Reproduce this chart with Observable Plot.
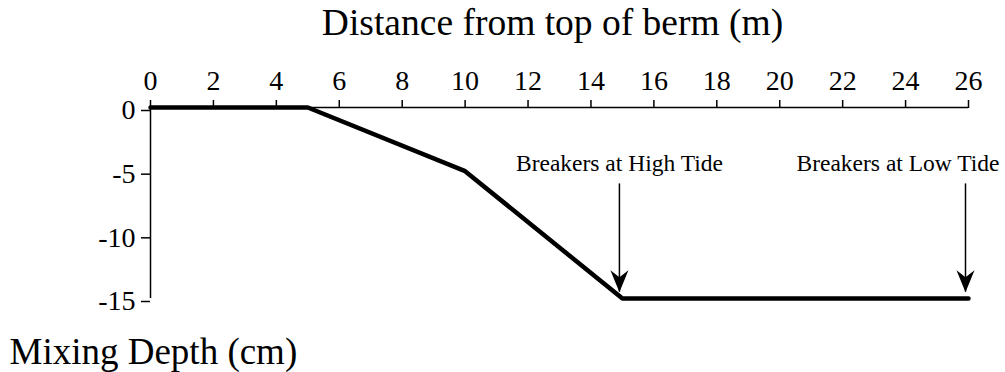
<!DOCTYPE html>
<html>
<head>
<meta charset="utf-8">
<script src="https://cdn.jsdelivr.net/npm/d3@7"></script>
<script src="https://cdn.jsdelivr.net/npm/@observablehq/plot@0.6"></script>
<style>
  html, body { margin: 0; padding: 0; background: #fff; }
</style>
</head>
<body>
<div id="chart"></div>
<script>
// Data
const distance = [0, 5, 10, 15, 26];          // m from top of berm
const depth = [0, 0, -5, -15, -15];           // mixing depth (cm)
const xTicks = [0, 2, 4, 6, 8, 10, 12, 14, 16, 18, 20, 22, 24, 26];
const yTicks = [0, -5, -10, -15];
const arrowX = [15, 26];
const arrowTop = [-6, -6];
const arrowTip = [-14.5, -14.5];
const breakerLabels = ["Breakers at High Tide", "Breakers at Low Tide"];
const labelY = [-5, -5];
const xTitle = "Distance from top of berm (m)";
const yTitle = "Mixing Depth (cm)";

const arrowHead = {
  draw(context) {
    context.moveTo(0, 0);
    context.lineTo(-9, -22);
    context.lineTo(0, -15);
    context.lineTo(9, -22);
    context.closePath();
  }
};

const chart = Plot.plot({
  width: 1005,
  height: 372,
  marginLeft: 150,
  marginRight: 37,
  marginTop: 107,
  marginBottom: 74,
  x: {domain: [0, 26]},
  y: {domain: [-15, 0]},
  style: {fontFamily: "'Liberation Serif', 'Times New Roman', serif", background: "white", color: "black"},
  marks: [
    Plot.ruleY([0], {stroke: "black", strokeWidth: 1.5}),
    Plot.ruleX([0], {stroke: "black", strokeWidth: 1.5}),
    Plot.axisX(xTicks, {anchor: "top", tickSize: 8, tickPadding: 10, fontSize: 28, label: null, strokeWidth: 1.5, tickFormat: d => String(d)}),
    Plot.axisY(yTicks, {anchor: "left", tickSize: 9, tickPadding: 6, fontSize: 28, label: null, strokeWidth: 1.5, dy: 3, tickFormat: d => String(d)}),
    Plot.line(distance, {x: distance, y: depth, stroke: "black", strokeWidth: 4.5, strokeLinejoin: "miter"}),
    Plot.ruleX(arrowX, {x: arrowX, y1: arrowTop, y2: arrowTip, dx: -3, stroke: "black", strokeWidth: 1.5}),
    Plot.dot(arrowX, {x: arrowX, y: arrowTip, dx: -3, symbol: arrowHead, fill: "black", stroke: "none"}),
    Plot.text([breakerLabels[0]], {x: [arrowX[0]], y: [labelY[0]], text: [breakerLabels[0]], textAnchor: "middle", lineAnchor: "bottom", dx: -3, fontSize: 23.5}),
    Plot.text([breakerLabels[1]], {x: [arrowX[1]], y: [labelY[1]], text: [breakerLabels[1]], textAnchor: "end", lineAnchor: "bottom", dx: 31, fontSize: 23.5}),
    Plot.text([xTitle], {frameAnchor: "top", dx: -7, dy: -85, fontSize: 37.5, lineAnchor: "middle"}),
    Plot.text([yTitle], {frameAnchor: "bottom-left", textAnchor: "start", dx: -141, dy: 54, fontSize: 37, lineAnchor: "middle"})
  ]
});
document.getElementById("chart").appendChild(chart);
</script>
</body>
</html>
